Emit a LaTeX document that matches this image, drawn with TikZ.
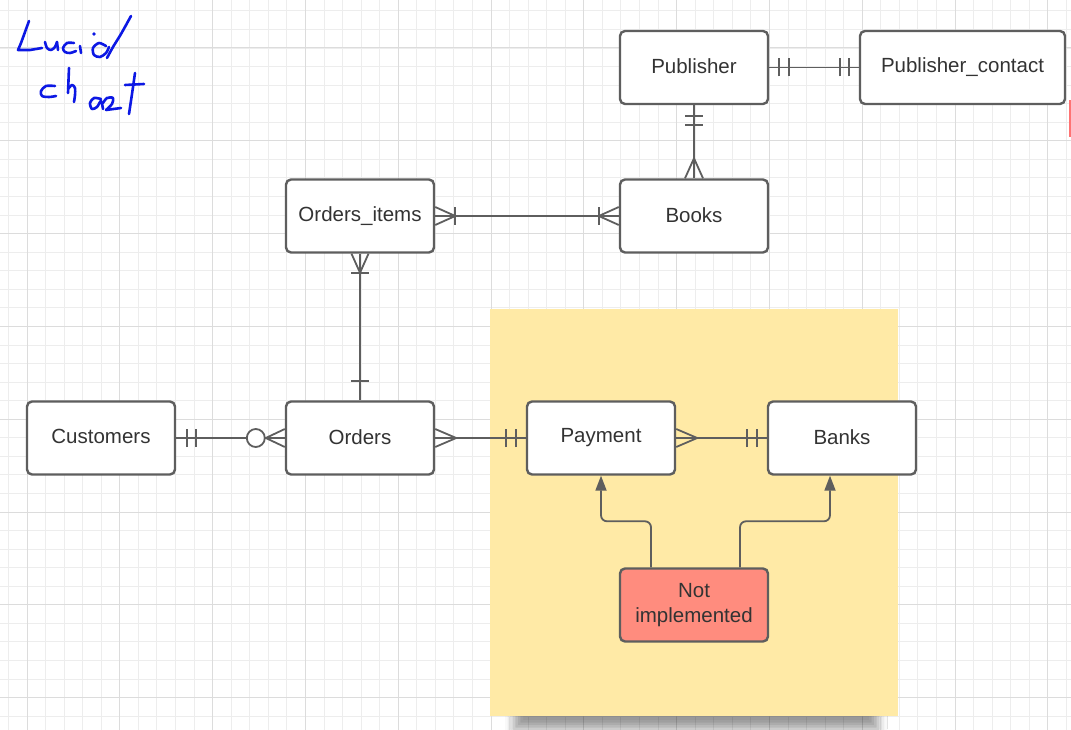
\documentclass[tikz,border=0pt]{standalone}
\usepackage{fontspec}
\setmainfont{Liberation Sans}
\usetikzlibrary{arrows.meta,calc,shadows.blur}

\definecolor{gridminor}{HTML}{EDEDED}
\definecolor{gridmajor}{HTML}{DCDCDC}
\definecolor{linegrey}{HTML}{5E5E5E}
\definecolor{textgrey}{HTML}{333333}
\definecolor{notebg}{HTML}{FFEAA6}
\definecolor{salmon}{HTML}{FF8C7E}
\definecolor{inkblue}{RGB}{12,24,228}
\definecolor{markred}{HTML}{FF7373}

% single-line entity names sit slightly above the box centre
\newcommand\uplabel[1]{\raisebox{2.5pt}{#1}}

\tikzset{
  entity/.style={draw=linegrey, line width=2.4pt, rounded corners=5pt, fill=white,
    minimum width=148pt, minimum height=73pt, inner sep=0pt,
    text=textgrey, font=\fontsize{20.5}{25}\selectfont, align=center},
  er/.style={draw=linegrey, line width=1.8pt},
  link/.style={draw=linegrey, line width=1.8pt, rounded corners=6pt,
    -{Triangle[length=15pt,width=11pt]}},
  hand/.style={draw=inkblue, line width=2.6pt, line cap=round, line join=round},
}

\begin{document}
\begin{tikzpicture}[x=1pt, y=-1pt]
\useasboundingbox (0,0) rectangle (1071,730);
\fill[white] (0,0) rectangle (1071,730);

% background grid
\foreach \k in {-1,...,56} {
  \pgfmathsetmacro\gx{27+18.56*\k}
  \draw[gridminor, line width=0.9pt] (\gx,0) -- (\gx,730);
}
\foreach \k in {-3,...,37} {
  \pgfmathsetmacro\gy{48+18.56*\k}
  \draw[gridminor, line width=0.9pt] (0,\gy) -- (1071,\gy);
}
\foreach \k in {0,...,11} {
  \pgfmathsetmacro\gx{27+92.8*\k}
  \draw[gridmajor, line width=1pt] (\gx,0) -- (\gx,730);
}
\foreach \k in {0,...,7} {
  \pgfmathsetmacro\gy{48+92.8*\k}
  \draw[gridmajor, line width=1pt] (0,\gy) -- (1071,\gy);
}

% note area behind the payment part, with its soft shadow
\path[blur shadow={shadow xshift=0pt, shadow yshift=0pt,
  shadow blur radius=9pt, shadow opacity=40}] (514,520) rectangle (878,729);
\fill[notebg] (490,309) rectangle (898,716);

% small red mark at the right edge
\fill[markred] (1068.5,100) rectangle (1071,137);

% handwritten title
\draw[hand] plot[smooth] coordinates {(29,21) (25,32) (21,43) (18,50)} -- (30,50) -- (42,48);
\draw[hand] plot[smooth] coordinates {(45,42) (47,48) (51,50) (55,47) (57,42)};
\draw[hand] (57,42) -- (58,50);
\draw[hand] plot[smooth] coordinates {(74,43) (67,43) (63,48) (65,52) (70,53) (76,51)};
\draw[hand] (80,46) -- (81,53);
\fill[inkblue] (94,34) circle (1.8);
\draw[hand] plot[smooth] coordinates {(106,46) (99,43) (93,48) (94,55) (100,57) (106,53) (109,47)};
\draw[hand] plot[smooth] coordinates {(131,16) (121,34) (113,47) (107,58)};
\draw[hand] plot[smooth] coordinates {(55,86) (46,86) (41,91) (42,96) (49,97) (56,96)};
\draw[hand] (69,68) -- (68,93);
\draw[hand] plot[smooth] coordinates {(68,89) (72,85) (75,88) (75,95) (74,102)};
\draw[hand] plot[smooth] coordinates {(101,99) (94,98) (90,103) (92,109) (97,107) (101,101) (103,109)};
\draw[hand] plot[smooth] coordinates {(103,103) (107,98) (113,98) (112,104) (106,110)} -- (121,108);
\draw[hand] (125,85) -- (144,84);
\draw[hand] plot[smooth] coordinates {(135,73) (132,94) (129,114)};

% entities
\node[entity] (pub)    at (694,67.5)   {\uplabel{Publisher}};
\node[entity, minimum width=205pt] (pubc) at (962.5,67.5) {\uplabel{Publisher\_contact}};
\node[entity] (books)  at (694,216)    {\uplabel{Books}};
\node[entity] (oitems) at (360,216)    {\uplabel{Orders\_items}};
\node[entity] (cust)   at (101,438)    {\uplabel{Customers}};
\node[entity] (orders) at (360,438)    {\uplabel{Orders}};
\node[entity] (pay)    at (601,438)    {\uplabel{Payment}};
\node[entity] (banks)  at (842,438)    {\uplabel{Banks}};
\node[entity, fill=salmon] (ni) at (694,605) {Not\\implemented};

% Publisher -- Publisher_contact : one and only one on both sides
\draw[er] (pub.east) -- (pubc.west);
\draw[er] ([xshift=10pt,yshift=-9pt]pub.east) -- ++(0pt,18pt);
\draw[er] ([xshift=20pt,yshift=-9pt]pub.east) -- ++(0pt,18pt);
\draw[er] ([xshift=-10pt,yshift=-9pt]pubc.west) -- ++(0pt,18pt);
\draw[er] ([xshift=-19pt,yshift=-9pt]pubc.west) -- ++(0pt,18pt);

% Publisher -- Books : one to many
\draw[er] (pub.south) -- (books.north);
\draw[er] ([xshift=-9pt,yshift=-11pt]pub.south) -- ++(18pt,0pt);
\draw[er] ([xshift=-9pt,yshift=-20pt]pub.south) -- ++(18pt,0pt);
\draw[er] ([xshift=-9pt]books.north) -- ([yshift=20pt]books.north) -- ([xshift=9pt]books.north);

% Orders_items -- Books : one or many on both sides
\draw[er] (oitems.east) -- (books.west);
\draw[er] ([yshift=9pt]oitems.east) -- ([xshift=20pt]oitems.east) -- ([yshift=-9pt]oitems.east);
\draw[er] ([xshift=20pt,yshift=-9pt]oitems.east) -- ++(0pt,18pt);
\draw[er] ([yshift=9pt]books.west) -- ([xshift=-20pt]books.west) -- ([yshift=-9pt]books.west);
\draw[er] ([xshift=-20pt,yshift=-9pt]books.west) -- ++(0pt,18pt);

% Orders_items -- Orders : one or many / one
\draw[er] (oitems.south) -- (orders.north);
\draw[er] ([xshift=-8.5pt]oitems.south) -- ([yshift=-19pt]oitems.south) -- ([xshift=8.5pt]oitems.south);
\draw[er] ([xshift=-9pt,yshift=-19pt]oitems.south) -- ++(18pt,0pt);
\draw[er] ([xshift=-9pt,yshift=19pt]orders.north) -- ++(18pt,0pt);

% Customers -- Orders : one and only one / zero or many
\draw[er] (cust.east) -- (orders.west);
\draw[er] ([xshift=11pt,yshift=-9pt]cust.east) -- ++(0pt,18pt);
\draw[er] ([xshift=20pt,yshift=-9pt]cust.east) -- ++(0pt,18pt);
\draw[er, fill=white] ([xshift=-29pt]orders.west) circle (9pt);
\draw[er] ([yshift=9pt]orders.west) -- ([xshift=-19pt]orders.west) -- ([yshift=-9pt]orders.west);

% Orders -- Payment : many / one and only one
\draw[er] (orders.east) -- (pay.west);
\draw[er] ([yshift=9pt]orders.east) -- ([xshift=21pt]orders.east) -- ([yshift=-9pt]orders.east);
\draw[er] ([xshift=-10pt,yshift=-9pt]pay.west) -- ++(0pt,18pt);
\draw[er] ([xshift=-20pt,yshift=-9pt]pay.west) -- ++(0pt,18pt);

% Payment -- Banks : many / one and only one
\draw[er] (pay.east) -- (banks.west);
\draw[er] ([yshift=9pt]pay.east) -- ([xshift=21pt]pay.east) -- ([yshift=-9pt]pay.east);
\draw[er] ([xshift=-10pt,yshift=-9pt]banks.west) -- ++(0pt,18pt);
\draw[er] ([xshift=-20pt,yshift=-9pt]banks.west) -- ++(0pt,18pt);

% not implemented links
\draw[link] ([xshift=-43pt]ni.north) -- ++(0pt,46pt) -| (pay.south);
\draw[link] ([xshift=46pt]ni.north) -- ++(0pt,46pt) -| ([xshift=-12pt]banks.south);
\end{tikzpicture}
\end{document}
